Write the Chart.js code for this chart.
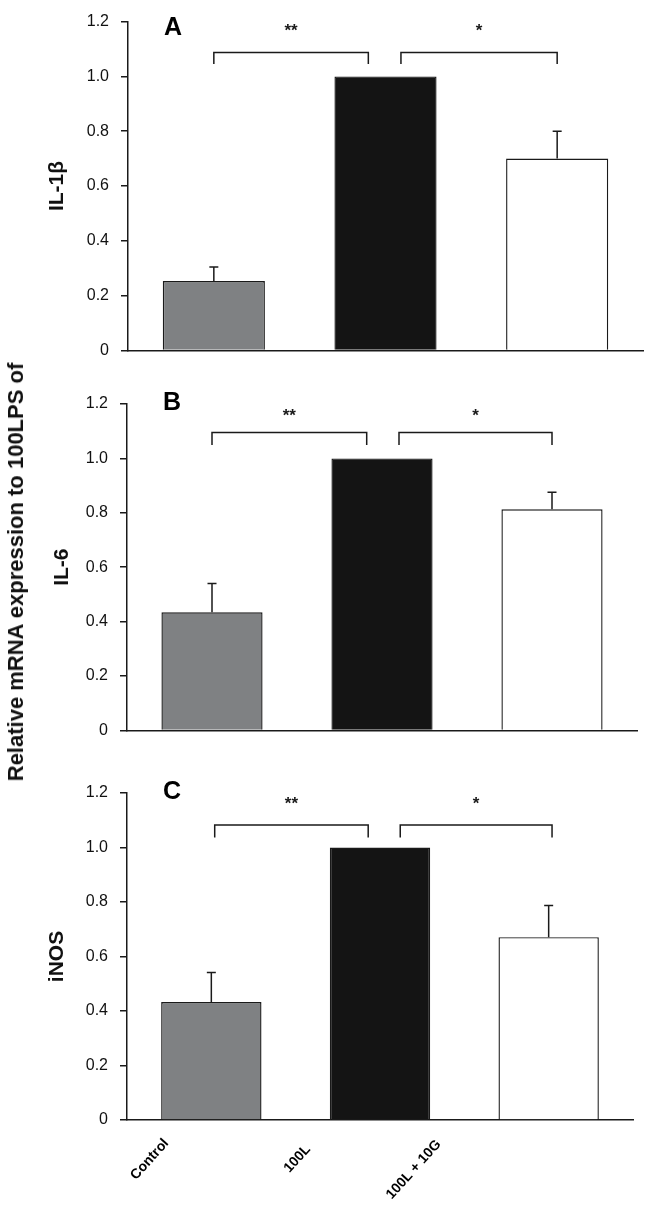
<!DOCTYPE html>
<html>
<head>
<meta charset="utf-8">
<script src="https://cdn.jsdelivr.net/npm/chart.js@4"></script>
<style>
  body { margin: 0; background: #fff; }
  #page { position: relative; width: 656px; height: 1215px; overflow: hidden; }
  .panel { position: absolute; left: 0; width: 656px; }
  #ytitle {
    position: absolute; left: 16px; top: 572px;
    transform: translate(-50%, -50%) rotate(-90deg);
    white-space: nowrap;
    font: bold 22px "Liberation Sans", Arial, sans-serif; color: #111;
  }
</style>
</head>
<body>
<div id="page">
  <div class="panel" style="top:0"><canvas id="chartA" width="656" height="372"></canvas></div>
  <div class="panel" style="top:372px"><canvas id="chartB" width="656" height="380"></canvas></div>
  <div class="panel" style="top:752px"><canvas id="chartC" width="656" height="463"></canvas></div>
  <div id="ytitle">Relative mRNA expression to 100LPS of</div>
</div>
<script>
// Data
const groups = ['Control', '100L', '100L + 10G'];
const barColors = ['#7f8183', '#141414', '#ffffff'];
const yTicks = [0, 0.2, 0.4, 0.6, 0.8, 1.0, 1.2];

const il1b = [0.253, 1.0, 0.70];      // IL-1β
const il1bErr = [0.051, 0, 0.10];
const il6 = [0.434, 1.0, 0.813];      // IL-6
const il6Err = [0.106, 0, 0.063];
const inos = [0.433, 1.0, 0.671];     // iNOS
const inosErr = [0.108, 0, 0.116];

const FONT = '"Liberation Sans", Arial, sans-serif';
const INK = '#1a1a1a';

// Draws error bars, significance brackets, panel letter and (optionally) x labels
const annotate = {
    id: 'annotate',
    afterDatasetsDraw(chart, args, opts) {
        const ctx = chart.ctx;
        const x = chart.scales.x, y = chart.scales.y;
        const area = chart.chartArea;
        const meta = chart.getDatasetMeta(0);
        const values = chart.data.datasets[0].data;
        ctx.save();
        ctx.strokeStyle = INK;
        ctx.fillStyle = INK;
        ctx.lineWidth = 1.5;

        // error bars (upper only)
        opts.errors.forEach((e, i) => {
            if (!e) return;
            const bar = meta.data[i];
            const top = y.getPixelForValue(values[i] + e);
            ctx.beginPath();
            ctx.moveTo(bar.x, bar.y);
            ctx.lineTo(bar.x, top);
            ctx.moveTo(bar.x - 4.5, top);
            ctx.lineTo(bar.x + 4.5, top);
            ctx.stroke();
        });

        // brackets + stars
        opts.brackets.forEach(b => {
            const x1 = x.getPixelForValue(b.from), x2 = x.getPixelForValue(b.to);
            const yl = y.getPixelForValue(b.y), yd = y.getPixelForValue(b.drop);
            ctx.beginPath();
            ctx.moveTo(x1, yd);
            ctx.lineTo(x1, yl);
            ctx.lineTo(x2, yl);
            ctx.lineTo(x2, yd);
            ctx.stroke();
            ctx.font = 'bold 17px ' + FONT;
            ctx.textAlign = 'center';
            ctx.textBaseline = 'middle';
            ctx.fillText(b.mark, (x1 + x2) / 2, y.getPixelForValue(b.markY) + 4);
        });

        // panel letter
        ctx.font = 'bold 25px ' + FONT;
        ctx.textAlign = 'center';
        ctx.textBaseline = 'middle';
        ctx.fillStyle = '#000';
        ctx.fillText(opts.letter, area.left + 45, y.getPixelForValue(opts.letterY));

        // rotated category labels (bottom panel only)
        if (opts.xLabels) {
            ctx.font = 'bold 14px ' + FONT;
            ctx.textAlign = 'right';
            ctx.textBaseline = 'middle';
            chart.data.labels.forEach((lab, i) => {
                const [dx, dy] = opts.xLabels[i];
                ctx.save();
                ctx.translate(x.getPixelForValue(i) + dx, area.bottom + dy);
                ctx.rotate(-48 * Math.PI / 180);
                ctx.fillText(lab, 0, 0);
                ctx.restore();
            });
        }
        ctx.restore();
    }
};

function makePanel(id, title, values, errors, layout, extra) {
    const ctx = document.getElementById(id).getContext('2d');
    return new Chart(ctx, {
        type: 'bar',
        data: {
            labels: groups,
            datasets: [{
                data: values,
                backgroundColor: barColors,
                borderColor: INK,
                borderWidth: 1.4,
                barPercentage: 0.595,
                categoryPercentage: 1.0
            }]
        },
        options: {
            responsive: false,
            animation: false,
            devicePixelRatio: 1,
            layout: { padding: { top: layout.top, right: layout.right, left: 0, bottom: 0 } },
            plugins: {
                legend: { display: false },
                tooltip: { enabled: false },
                annotate: Object.assign({ errors: errors }, extra)
            },
            scales: {
                x: {
                    grid: { display: false },
                    border: { display: true, color: INK, width: 1.5 },
                    ticks: { display: false },
                    afterFit: s => { s.height = layout.xHeight; }
                },
                y: {
                    min: 0,
                    max: 1.2,
                    afterFit: s => { s.width = layout.yWidth; },
                    afterBuildTicks: s => { s.ticks = yTicks.map(v => ({ value: v })); },
                    grid: { drawOnChartArea: false, drawTicks: true, tickLength: 7, color: INK, lineWidth: 1.5 },
                    border: { display: true, color: INK, width: 1.5 },
                    ticks: {
                        padding: 12,
                        color: '#111',
                        font: { family: FONT, size: 16 },
                        callback: v => v === 0 ? '0' : v.toFixed(1)
                    },
                    title: {
                        display: true,
                        text: title,
                        color: '#111',
                        font: { family: FONT, size: 21, weight: 'bold' },
                        padding: { top: layout.titlePad, bottom: 0 }
                    }
                }
            }
        },
        plugins: [annotate]
    });
}

makePanel('chartA', 'IL-1β', il1b, il1bErr,
    { top: 18, right: 13, xHeight: 21, yWidth: 128, titlePad: 45 },
    {
        letter: 'A', letterY: 1.175,
        brackets: [
            { from: 0, to: 0.9, y: 1.087, drop: 1.045, mark: '**', markY: 1.178 },
            { from: 1.09, to: 2, y: 1.087, drop: 1.045, mark: '*', markY: 1.178 }
        ]
    });

makePanel('chartB', 'IL-6', il6, il6Err,
    { top: 32, right: 19, xHeight: 16, yWidth: 127, titlePad: 50 },
    {
        letter: 'B', letterY: 1.205,
        brackets: [
            { from: 0, to: 0.91, y: 1.095, drop: 1.049, mark: '**', markY: 1.168 },
            { from: 1.1, to: 2, y: 1.095, drop: 1.049, mark: '*', markY: 1.168 }
        ]
    });

makePanel('chartC', 'iNOS', inos, inosErr,
    { top: 41, right: 23, xHeight: 95, yWidth: 127, titlePad: 45 },
    {
        letter: 'C', letterY: 1.203,
        brackets: [
            { from: 0.02, to: 0.93, y: 1.083, drop: 1.037, mark: '**', markY: 1.175 },
            { from: 1.12, to: 2.02, y: 1.083, drop: 1.037, mark: '*', markY: 1.175 }
        ],
        xLabels: [[-45, 21], [-72, 27], [-110, 22]]
    });
</script>
</body>
</html>
